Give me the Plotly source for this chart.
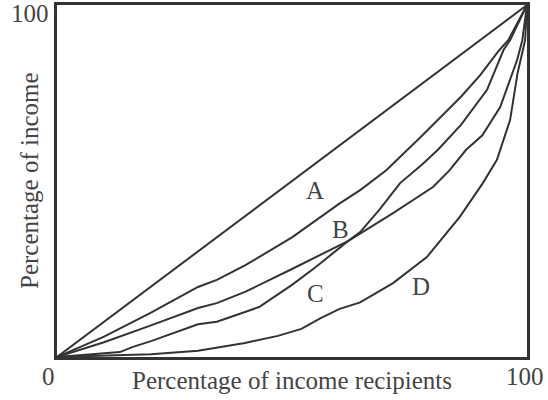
import plotly.graph_objects as go

# Lorenz curves (percent of recipients -> percent of income)
equality_x = [0, 100]
equality_y = [0, 100]

curve1_x = [0, 10, 20, 30, 34, 40, 50, 60, 64.5, 70, 77, 80, 86, 90, 94, 96, 100]
curve1_y = [0, 5.8, 12.6, 19.9, 21.9, 26, 34, 43.5, 47.4, 53, 62, 66, 74, 80, 87, 90, 100]

curve2_x = [0, 10, 20, 30, 34, 40, 50, 60, 62, 71.5, 80, 83.5, 87, 90.5, 94.3, 97.9, 99, 100]
curve2_y = [0, 4.2, 9, 13.9, 15.3, 18.5, 25, 31.5, 33, 40.9, 48.3, 53, 58.8, 63, 71, 84.4, 90, 100]

curve3_x = [0, 10, 13.4, 16, 20, 30, 34, 40, 43, 50, 55, 61.7, 64.5, 68.7, 73, 77.5, 81, 86, 91.5, 95, 96.4, 100]
curve3_y = [0, 1, 1.4, 2.8, 4.5, 9.3, 10, 12.8, 14.2, 20.5, 25.5, 32.7, 35.5, 42, 49.4, 54.5, 58.8, 66, 75.9, 87.2, 90, 100]

curve4_x = [0, 10, 20, 30, 34, 40, 47, 52, 56, 60, 64.5, 71.5, 78.7, 85.7, 90.6, 93.6, 96.4, 98, 99.6, 100]
curve4_y = [0, 0.3, 0.8, 1.8, 2.6, 4, 6, 8, 11, 13.6, 15.5, 21, 28.4, 39.8, 49.4, 56, 67.3, 80.7, 90, 100]

area_labels = ["A", "B", "C", "D"]
area_label_x = [54.9, 60.4, 54.9, 77.4]
area_label_y = [47.4, 36.1, 17.9, 19.9]

tick_text = ["0", "100", "100"]
tick_x = [0, 100, 0]
tick_y = [0, 0, 100]

x_title = "Percentage of income recipients"
y_title = "Percentage of income"

C_LINE = "#333333"
C_TEXT = "#444444"
FONT = "Liberation Serif, Times New Roman, serif"
FS = 25

fig = go.Figure()
for xs, ys in [(equality_x, equality_y), (curve1_x, curve1_y), (curve2_x, curve2_y),
               (curve3_x, curve3_y), (curve4_x, curve4_y)]:
    fig.add_trace(go.Scatter(x=xs, y=ys, mode="lines",
                             line=dict(color=C_LINE, width=2), hoverinfo="skip"))

# Area letters
for txt, x, y in zip(area_labels, area_label_x, area_label_y):
    fig.add_annotation(x=x, y=y, text=txt, showarrow=False,
                       font=dict(family=FONT, size=FS, color=C_TEXT))

# Corner tick labels (0 at origin, 100 at both ends)
shifts = [(-9, -19), (-2, -19), (-27, -8)]
for txt, x, y, (dx, dy) in zip(tick_text, tick_x, tick_y, shifts):
    fig.add_annotation(x=x, y=y, text=txt, showarrow=False, xshift=dx, yshift=dy,
                       xanchor="center", yanchor="middle",
                       font=dict(family=FONT, size=FS, color=C_TEXT))

# Axis titles
fig.add_annotation(x=0.5, y=0, xref="paper", yref="paper", text=x_title,
                   xanchor="center", yanchor="middle", showarrow=False, yshift=-23,
                   font=dict(family=FONT, size=FS, color=C_TEXT))
fig.add_annotation(x=0, y=0.5, xref="paper", yref="paper", text=y_title, textangle=-90,
                   xanchor="center", yanchor="middle", showarrow=False, xshift=-28,
                   font=dict(family=FONT, size=FS, color=C_TEXT))

fig.update_layout(
    width=548, height=400,
    paper_bgcolor="white", plot_bgcolor="white",
    margin=dict(l=57, r=21, t=5, b=43),
    showlegend=False,
    font=dict(family=FONT, size=FS, color=C_TEXT),
)
axis_style = dict(range=[0, 100], showgrid=False, zeroline=False, showticklabels=False,
                  ticks="", showline=True, mirror=True, linecolor=C_LINE, linewidth=3,
                  automargin=False)
fig.update_xaxes(**axis_style)
fig.update_yaxes(**axis_style)

fig.write_html("out.html", config={"displayModeBar": False},
               post_script="document.body.style.margin='0';")
